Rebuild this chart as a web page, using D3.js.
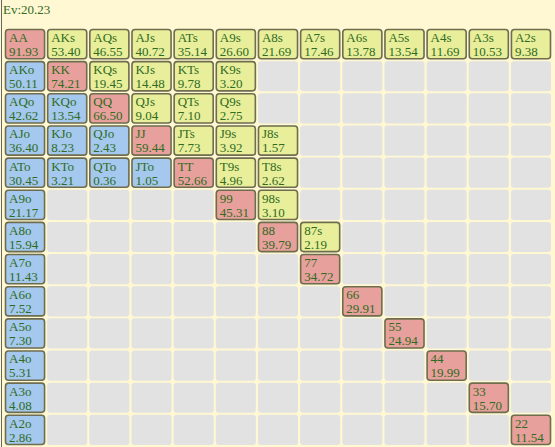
<!DOCTYPE html>
<html><head><meta charset="utf-8">
<script src="https://cdn.jsdelivr.net/npm/d3@7"></script>
<style>
body{margin:0;background:#fff8d2;}
svg{display:block;}
text{font-family:"Liberation Serif","DejaVu Serif",serif;font-size:13px;fill:#2f6b22;}
</style></head><body>
<svg width="555" height="447"></svg>
<script>
const ranks = ["A","K","Q","J","T","9","8","7","6","5","4","3","2"];
const hands = ["AA","AKs","AQs","AJs","ATs","A9s","A8s","A7s","A6s","A5s","A4s","A3s","A2s",
  "AKo","KK","KQs","KJs","KTs","K9s",
  "AQo","KQo","QQ","QJs","QTs","Q9s",
  "AJo","KJo","QJo","JJ","JTs","J9s","J8s",
  "ATo","KTo","QTo","JTo","TT","T9s","T8s",
  "A9o","99","98s","A8o","88","87s","A7o","77","A6o","66","A5o","55","A4o","44","A3o","33","A2o","22"];
const evs = [91.93,53.40,46.55,40.72,35.14,26.60,21.69,17.46,13.78,13.54,11.69,10.53,9.38,
  50.11,74.21,19.45,14.48,9.78,3.20,
  42.62,13.54,66.50,9.04,7.10,2.75,
  36.40,8.23,2.43,59.44,7.73,3.92,1.57,
  30.45,3.21,0.36,1.05,52.66,4.96,2.62,
  21.17,45.31,3.10,15.94,39.79,2.19,11.43,34.72,7.52,29.91,7.30,24.94,5.31,19.99,4.08,15.70,2.86,11.54];
const totalEv = "Ev:20.23";

const svg = d3.select("svg");
const x = d3.scaleBand().domain(ranks).range([5, 551]).paddingInner(0.05);
const y = d3.scaleBand().domain(ranks).range([29, 445]).paddingInner(0.06);
const colors = {p:"#e8a09c", s:"#e8ee9a", o:"#a4c8ee"};

svg.append("line").attr("x1",1.5).attr("x2",1.5).attr("y1",0).attr("y2",447).attr("stroke","#666");
svg.append("text").attr("x",3).attr("y",14).text(totalEv);

// background grid of empty cells
const grid = d3.cross(ranks, ranks);
svg.append("g").selectAll("rect").data(grid).enter().append("rect")
  .attr("x", d => x(d[1])).attr("y", d => y(d[0]))
  .attr("width", x.bandwidth()).attr("height", y.bandwidth())
  .attr("rx", 3).attr("fill", "#e2e2e2");

const data = hands.map((h, i) => {
  const a = h[0], b = h[1];
  const t = h.length == 2 ? "p" : h[2];
  // suited: row = first rank, col = second; offsuit: row = second, col = first
  const row = t == "o" ? b : a, col = t == "o" ? a : b;
  return {h, ev: evs[i], t, row, col};
});

const cells = svg.append("g").selectAll("g").data(data).enter().append("g")
  .attr("transform", d => "translate(" + x(d.col) + "," + y(d.row) + ")");

cells.append("rect")
  .attr("x", 0.5).attr("y", 0.5)
  .attr("width", x.bandwidth() - 1).attr("height", y.bandwidth() - 1)
  .attr("rx", 3).attr("fill", d => colors[d.t])
  .attr("stroke", "#6e6e4e").attr("stroke-width", 1.6);

cells.append("text").attr("x", 4).attr("y", 13).text(d => d.h);
cells.append("text").attr("x", 4).attr("y", 27).text(d => d3.format(".2f")(d.ev));
</script></body></html>
